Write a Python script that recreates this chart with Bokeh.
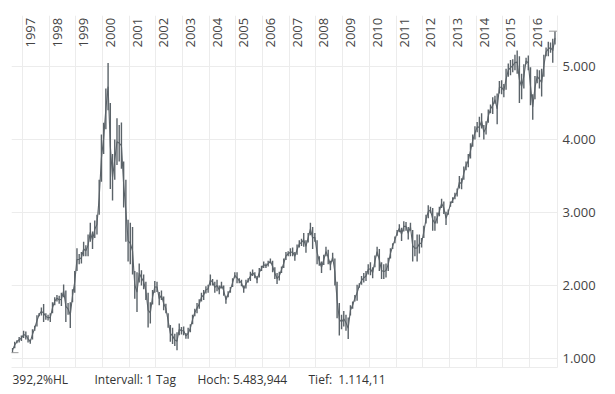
import math
import pandas as pd
from bokeh.plotting import figure
from bokeh.layouts import column
from bokeh.models import Range1d, FixedTicker, ColumnDataSource
from bokeh.core.properties import value
from bokeh.embed import file_html
from bokeh.resources import INLINE

# ---- data: monthly closing low / high (index points), Aug 1996 .. Dec 2016 ----
first_month = "1996-08"
last_month = "2016-12"

monthly_low = [
    1080, 1140, 1210, 1220, 1240,                                      # 1996 Aug-Dec
    1280, 1260, 1220, 1201, 1260, 1380, 1440, 1580, 1590, 1500, 1530, 1520,  # 1997
    1500, 1620, 1730, 1780, 1750, 1720, 1840, 1500, 1600, 1419, 1770, 1900,  # 1998
    2200, 2290, 2300, 2400, 2400, 2400, 2600, 2500, 2650, 2700, 2970, 3420,  # 1999
    3800, 4140, 4400, 3321, 3164, 3450, 3650, 3700, 3600, 3070, 2600, 2330,  # 2000
    2290, 2150, 1820, 1638, 2040, 2000, 1950, 1800, 1423, 1480, 1740, 1900,  # 2001
    1910, 1730, 1800, 1660, 1620, 1420, 1230, 1200, 1170, 1114.11, 1320, 1330,  # 2002
    1320, 1270, 1271, 1360, 1470, 1580, 1620, 1680, 1780, 1800, 1890, 1900,  # 2003
    2000, 2000, 1900, 1920, 1880, 1960, 1860, 1750, 1840, 1900, 1980, 2100,  # 2004
    2030, 2030, 1990, 1900, 1960, 2040, 2060, 2130, 2100, 2030, 2110, 2200,  # 2005
    2240, 2240, 2260, 2300, 2180, 2090, 2020, 2070, 2170, 2240, 2350, 2400,  # 2006
    2400, 2400, 2340, 2420, 2520, 2540, 2530, 2450, 2590, 2690, 2500, 2600,  # 2007
    2290, 2270, 2170, 2280, 2400, 2290, 2210, 2330, 2000, 1550, 1316, 1400,  # 2008
    1440, 1380, 1268, 1590, 1680, 1780, 1790, 1970, 2010, 2040, 2060, 2150,  # 2009
    2140, 2100, 2250, 2400, 2200, 2090, 2090, 2110, 2200, 2370, 2500, 2580,  # 2010
    2680, 2730, 2610, 2740, 2750, 2630, 2750, 2330, 2400, 2330, 2440, 2520,  # 2011
    2650, 2850, 2920, 2990, 2750, 2750, 2850, 2950, 3060, 2980, 2830, 2970,  # 2012
    3080, 3130, 3180, 3220, 3330, 3320, 3450, 3580, 3620, 3740, 3900, 4000,  # 2013
    4100, 4030, 4150, 4000, 4070, 4230, 4360, 4350, 4490, 4210, 4630, 4620,  # 2014
    4580, 4680, 4860, 4880, 4920, 4950, 4900, 4500, 4550, 4700, 5030, 4950,  # 2015
    4470, 4270, 4550, 4770, 4700, 4590, 4860, 5140, 5140, 5190, 5050, 5300,  # 2016
]

monthly_high = [
    1145, 1230, 1250, 1295, 1316,                                      # 1996 Aug-Dec
    1380, 1370, 1320, 1260, 1400, 1450, 1594, 1625, 1700, 1745, 1620, 1600,  # 1997
    1620, 1770, 1840, 1870, 1860, 1900, 2015, 1930, 1760, 1770, 1950, 2200,  # 1998
    2510, 2430, 2460, 2600, 2550, 2700, 2860, 2740, 2890, 2970, 3450, 4069,  # 1999
    4230, 4700, 5048, 4500, 3800, 4000, 4290, 4200, 4234, 3700, 3450, 2900,  # 2000
    2860, 2800, 2200, 2180, 2300, 2210, 2150, 2050, 1900, 1770, 1940, 2060,  # 2001
    2050, 1910, 1930, 1850, 1750, 1620, 1460, 1420, 1340, 1360, 1480, 1430,  # 2002
    1440, 1350, 1420, 1470, 1600, 1680, 1760, 1810, 1900, 1940, 1990, 2010,  # 2003
    2150, 2090, 2050, 2080, 2000, 2050, 2000, 1860, 1920, 1980, 2100, 2180,  # 2004
    2180, 2100, 2080, 2000, 2080, 2100, 2190, 2220, 2180, 2130, 2240, 2270,  # 2005
    2330, 2300, 2340, 2370, 2340, 2250, 2170, 2190, 2260, 2370, 2460, 2470,  # 2006
    2510, 2520, 2460, 2560, 2620, 2640, 2720, 2620, 2720, 2860, 2800, 2720,  # 2007
    2620, 2400, 2330, 2420, 2530, 2490, 2340, 2450, 2370, 2050, 1760, 1600,  # 2008
    1650, 1600, 1560, 1730, 1780, 1870, 2010, 2030, 2130, 2170, 2200, 2290,  # 2009
    2320, 2250, 2410, 2530, 2500, 2320, 2290, 2300, 2380, 2510, 2580, 2670,  # 2010
    2760, 2840, 2790, 2880, 2870, 2800, 2860, 2760, 2620, 2700, 2700, 2650,  # 2011
    2820, 2970, 3100, 3080, 3060, 2950, 3000, 3080, 3190, 3150, 3010, 3040,  # 2012
    3150, 3210, 3270, 3330, 3500, 3470, 3630, 3700, 3800, 3950, 4070, 4180,  # 2013
    4240, 4310, 4360, 4200, 4250, 4410, 4480, 4580, 4600, 4630, 4800, 4810,  # 2014
    4760, 4970, 5040, 5090, 5100, 5160, 5220, 5140, 4900, 5030, 5120, 5150,  # 2015
    4990, 4620, 4870, 4960, 4950, 4970, 5160, 5260, 5340, 5330, 5380, 5483.944,  # 2016
]

year_ticks = list(range(1997, 2017))
year_labels = [str(y) for y in year_ticks]

price_ticks = [1000, 2000, 3000, 4000, 5000]
price_labels = ["1.000", "2.000", "3.000", "4.000", "5.000"]

footer_texts = ["392,2%HL", "Intervall: 1 Tag", "Hoch: 5.483,944", "Tief:\u00a0 1.114,11"]

# ---- build ----
months = pd.period_range(first_month, last_month, freq="M")
xpos = [m.year + (m.month - 0.5) / 12.0 for m in months]
mid = [(lo + hi) / 2.0 for lo, hi in zip(monthly_low, monthly_high)]
src = ColumnDataSource(dict(x=xpos, low=monthly_low, high=monthly_high, mid=mid))

FONT = "Open Sans"
DATA_COLOR = "#5b6369"
GRID = "#ececec"
LEFT, FRAME_W, RIGHT = 11, 546, 50

p = figure(
    frame_width=FRAME_W, frame_height=352,
    min_border_left=LEFT, min_border_top=15, min_border_bottom=4, min_border_right=RIGHT,
    x_range=Range1d(1996.588, 2017.053), y_range=Range1d(876.7, 5698.7),
    y_axis_location="right",
    output_backend="svg", toolbar_location=None,
    background_fill_color="white", border_fill_color="white",
)
p.outline_line_color = None

# bottom axis: only its line
p.xaxis.ticker = FixedTicker(ticks=[])
p.xaxis.major_tick_line_color = None
p.xaxis.minor_tick_line_color = None
p.xaxis.major_tick_out = 0
p.xaxis.major_tick_in = 0
p.xaxis.major_label_standoff = 0
p.xaxis.axis_line_color = GRID
p.xgrid.ticker = FixedTicker(ticks=year_ticks)

p.yaxis.ticker = FixedTicker(ticks=price_ticks)
p.yaxis.major_label_overrides = {t: l for t, l in zip(price_ticks, price_labels)}
p.yaxis.major_tick_line_color = None
p.yaxis.minor_tick_line_color = None
p.yaxis.major_tick_out = 0
p.yaxis.major_tick_in = 0
p.yaxis.major_label_standoff = 5
p.yaxis.axis_line_color = GRID
p.yaxis.major_label_text_font = FONT
p.yaxis.major_label_text_font_size = "13px"
p.yaxis.major_label_text_color = "#444444"

p.xgrid.grid_line_color = GRID
p.ygrid.grid_line_color = GRID

# year labels inside the top of the plot
p.text(x=year_ticks, y=[p.y_range.end] * len(year_ticks), text=year_labels,
       angle=math.pi / 2, x_offset=8, y_offset=32,
       text_align="left", text_baseline="middle",
       text_font=value(FONT), text_font_size="13px", text_color="#444444")

# monthly high-low ranges + connecting line
p.segment(x0="x", y0="low", x1="x", y1="high", source=src,
          line_color=DATA_COLOR, line_width=1.4)
p.line(x="x", y="mid", source=src, line_color=DATA_COLOR, line_width=1.1)

# high / low markers
i_hi = max(range(len(monthly_high)), key=lambda i: monthly_high[i])
i_lo = min(range(len(monthly_low)), key=lambda i: monthly_low[i])
p.scatter(x=[xpos[i_hi], xpos[i_lo]], y=[monthly_high[i_hi], monthly_low[i_lo]],
          marker="dash", size=12, line_color="#9a9a9a", line_width=1)

# footer strip (same horizontal frame as the chart; x in page pixels)
f = figure(frame_width=FRAME_W, frame_height=23,
           min_border_left=LEFT, min_border_right=RIGHT, min_border_top=0, min_border_bottom=0,
           x_range=Range1d(LEFT, LEFT + FRAME_W), y_range=Range1d(0, 23),
           x_axis_type=None, y_axis_type=None,
           output_backend="svg", toolbar_location=None,
           background_fill_color="white", border_fill_color="white")
f.outline_line_color = None
f.xgrid.visible = False
f.ygrid.visible = False
f.text(x=[12, 94, 197, 308], y=[15] * 4, text=footer_texts,
       text_align="left", text_baseline="alphabetic",
       text_font=value(FONT), text_font_size="12px", text_color="#333333")

layout = column(p, f, spacing=0)
open("out.html", "w").write(file_html(layout, INLINE))
